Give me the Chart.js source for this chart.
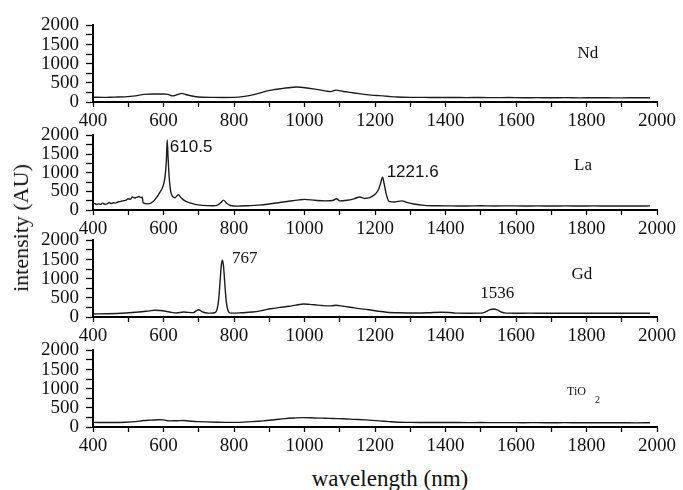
<!DOCTYPE html>
<html lang="en">

<head>
    <meta charset="UTF-8">
    <title>Emission spectra</title>
    <script src="https://cdn.jsdelivr.net/npm/chart.js"></script>
    <style>
        body {
            margin: 0;
            background: #fff;
        }

        #wrap {
            position: relative;
            width: 683px;
            height: 490px;
            overflow: hidden;
        }

        #wrap canvas {
            position: absolute;
            left: 0;
        }

        .axis-title {
            position: absolute;
            font-family: "Liberation Serif", serif;
            font-size: 22px;
            color: #111;
            white-space: nowrap;
        }

        #y-title {
            left: 21px;
            top: 228px;
            transform: translate(-50%, -50%) rotate(-90deg);
        }

        #x-title {
            left: 390px;
            top: 479px;
            font-size: 23px;
            transform: translate(-50%, -50%);
        }
    </style>
</head>

<body>
    <div id="wrap">
        <canvas id="panel-nd"></canvas>
        <canvas id="panel-la"></canvas>
        <canvas id="panel-gd"></canvas>
        <canvas id="panel-ti"></canvas>
        <div class="axis-title" id="y-title">intensity (AU)</div>
        <div class="axis-title" id="x-title">wavelength (nm)</div>
    </div>
    <script>
        // spectra (wavelength in nm, intensity in AU)
        const ndNm = [400, 430, 460, 490, 520, 545, 570, 595, 612, 626, 640, 652, 665, 688, 710, 740, 770, 800, 825, 853, 875, 894, 915, 935, 955, 976, 990, 1007, 1030, 1048, 1062, 1074, 1089, 1110, 1130, 1155, 1182, 1205, 1223, 1245, 1264, 1300, 1340, 1380, 1420, 1460, 1500, 1540, 1580, 1620, 1660, 1700, 1740, 1780, 1820, 1860, 1900, 1940, 1980];
        const ndVal = [125, 120, 128, 135, 160, 200, 210, 208, 200, 160, 195, 225, 190, 145, 125, 120, 118, 122, 140, 185, 240, 290, 325, 350, 372, 390, 385, 365, 335, 310, 285, 270, 310, 275, 250, 220, 185, 170, 160, 140, 130, 122, 120, 117, 119, 115, 118, 113, 116, 111, 114, 110, 113, 109, 112, 110, 108, 112, 110];

        const laNm = [400, 405, 410, 416, 421, 427, 433, 440, 446, 452, 458, 464, 470, 476, 482, 488, 494, 500, 506, 512, 518, 524, 530, 536, 540, 542, 556, 570, 580, 590, 598, 604, 608, 610.5, 613, 616, 620, 626, 633, 642, 650, 660, 675, 690, 710, 740, 755, 763, 770, 778, 790, 810, 840, 870, 900, 930, 960, 985, 1000, 1030, 1060, 1080, 1091, 1100, 1120, 1140, 1157, 1170, 1185, 1200, 1210, 1216, 1221.6, 1226, 1232, 1240, 1255, 1276, 1290, 1310, 1340, 1380, 1420, 1460, 1500, 1540, 1580, 1620, 1660, 1700, 1740, 1780, 1820, 1860, 1900, 1940, 1980];
        const laVal = [150, 175, 145, 165, 150, 185, 155, 165, 200, 170, 195, 185, 215, 225, 240, 250, 265, 300, 290, 350, 320, 340, 360, 335, 345, 190, 165, 220, 330, 480, 620, 870, 1300, 1880, 1400, 900, 520, 360, 330, 410, 330, 250, 190, 150, 125, 115, 140, 200, 265, 190, 120, 105, 115, 130, 160, 200, 240, 270, 285, 260, 245, 255, 300, 245, 260, 300, 350, 310, 330, 420, 550, 720, 880, 700, 420, 230, 215, 245, 205, 160, 125, 112, 110, 108, 112, 109, 111, 108, 110, 107, 110, 108, 110, 107, 109, 108, 110];

        const gdNm = [400, 440, 493, 530, 560, 575, 590, 606, 620, 637, 657, 670, 685, 693, 700, 709, 722, 734, 745, 752, 757, 761, 764, 767, 770, 773, 777, 782, 791, 820, 853, 880, 904, 930, 956, 975, 997, 1015, 1028, 1050, 1069, 1080, 1089, 1110, 1130, 1155, 1182, 1210, 1233, 1270, 1316, 1350, 1388, 1410, 1429, 1470, 1501, 1514, 1525, 1536, 1547, 1558, 1572, 1600, 1640, 1680, 1720, 1760, 1800, 1840, 1880, 1920, 1960, 1980];
        const gdVal = [80, 85, 105, 130, 160, 175, 170, 150, 125, 105, 130, 120, 115, 160, 190, 140, 105, 100, 110, 200, 500, 1000, 1350, 1480, 1350, 1000, 500, 200, 100, 110, 130, 170, 215, 250, 280, 310, 340, 330, 320, 300, 290, 295, 305, 280, 255, 220, 190, 150, 125, 110, 105, 110, 125, 118, 100, 98, 100, 135, 185, 210, 185, 130, 102, 98, 100, 97, 99, 96, 98, 97, 99, 96, 98, 97];

        const tiNm = [400, 450, 493, 520, 544, 565, 585, 600, 616, 640, 657, 680, 698, 750, 801, 850, 883, 915, 945, 970, 997, 1020, 1040, 1059, 1080, 1110, 1140, 1172, 1213, 1240, 1264, 1300, 1340, 1380, 1420, 1460, 1500, 1540, 1580, 1620, 1660, 1700, 1740, 1780, 1820, 1860, 1900, 1940, 1980];
        const tiVal = [120, 118, 125, 140, 170, 180, 190, 185, 160, 165, 168, 150, 140, 125, 120, 140, 160, 190, 220, 235, 245, 240, 232, 230, 220, 215, 200, 185, 160, 140, 125, 120, 118, 116, 118, 114, 116, 113, 115, 112, 114, 111, 113, 110, 112, 110, 111, 109, 110];

        const xMin = 400;
        const xMax = 2000;
        const yMin = 0;
        const yMax = 2000;

        const serif = "'Liberation Serif', serif";
        const sans = "'Liberation Sans', sans-serif";

        // text written inside the panels
        const notesPlugin = {
            id: "notes",
            afterDatasetsDraw(chart, args, opts) {
                const { ctx, scales } = chart;
                ctx.save();
                ctx.fillStyle = "#111";
                ctx.textBaseline = "middle";
                opts.items.forEach(n => {
                    ctx.font = n.font;
                    ctx.textAlign = n.align || "center";
                    ctx.fillText(n.text, scales.x.getPixelForValue(n.x), scales.y.getPixelForValue(n.y));
                });
                ctx.restore();
            }
        };

        function makePanel(id, top, bottom, nm, values, notes) {
            const padTop = 14;
            const axisH = 32;
            const canvas = document.getElementById(id);
            canvas.width = 683;
            canvas.height = (bottom - top) + padTop + axisH;
            canvas.style.top = (top - padTop) + "px";

            return new Chart(canvas.getContext("2d"), {
                type: "line",
                data: {
                    datasets: [{
                        data: nm.map((v, i) => ({ x: v, y: values[i] })),
                        borderColor: "#1c1c1c",
                        borderWidth: 1.4,
                        pointRadius: 0,
                        cubicInterpolationMode: "monotone",
                        fill: false
                    }]
                },
                options: {
                    responsive: false,
                    animation: false,
                    devicePixelRatio: 1,
                    layout: { padding: { top: padTop, right: 26, left: 0, bottom: 0 } },
                    plugins: {
                        legend: { display: false },
                        tooltip: { enabled: false },
                        notes: { items: notes }
                    },
                    scales: {
                        x: {
                            type: "linear",
                            min: xMin,
                            max: xMax,
                            afterFit: s => { s.height = axisH; },
                            border: { color: "#000", width: 2 },
                            grid: { drawOnChartArea: false, color: "#000", tickLength: 5, tickWidth: 1.3 },
                            ticks: {
                                stepSize: 100,
                                autoSkip: false,
                                maxRotation: 0,
                                minRotation: 0,
                                padding: 3,
                                color: "#111",
                                font: { family: serif, size: 19 },
                                callback: v => v % 200 === 0 ? v : ""
                            }
                        },
                        y: {
                            min: yMin,
                            max: yMax,
                            afterFit: s => { s.width = 93; },
                            border: { color: "#000", width: 2 },
                            grid: { drawOnChartArea: false, color: "#000", tickLength: 7, tickWidth: 1.3 },
                            ticks: {
                                stepSize: 250,
                                autoSkip: false,
                                padding: 7,
                                color: "#111",
                                font: { family: serif, size: 19 },
                                callback: v => v % 500 === 0 ? v : ""
                            }
                        }
                    }
                },
                plugins: [notesPlugin]
            });
        }

        makePanel("panel-nd", 21, 102, ndNm, ndVal, [
            { text: "Nd", x: 1804, y: 1260, font: "17px " + serif }
        ]);

        makePanel("panel-la", 131, 210, laNm, laVal, [
            { text: "610.5", x: 618, y: 1670, font: "17px " + sans, align: "left" },
            { text: "1221.6", x: 1233, y: 1000, font: "17px " + sans, align: "left" },
            { text: "La", x: 1790, y: 1190, font: "17px " + serif }
        ]);

        makePanel("panel-gd", 236, 317, gdNm, gdVal, [
            { text: "767", x: 794, y: 1515, font: "17px " + serif, align: "left" },
            { text: "1536", x: 1547, y: 620, font: "17px " + serif },
            { text: "Gd", x: 1787, y: 1118, font: "17px " + serif }
        ]);

        makePanel("panel-ti", 346, 427, tiNm, tiVal, [
            { text: "TiO", x: 1745, y: 914, font: "12px " + serif, align: "left" },
            { text: "2", x: 1824, y: 690, font: "10px " + serif, align: "left" }
        ]);
    </script>
</body>

</html>
